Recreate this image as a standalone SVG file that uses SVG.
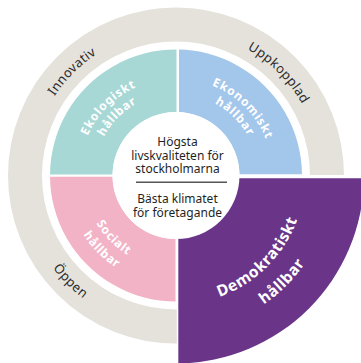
<svg xmlns="http://www.w3.org/2000/svg" width="361" height="363" viewBox="0 0 361 363">
<defs>
<style>
.outer{font-family:"Noto Sans",sans-serif;font-size:13px;fill:#2b2b2b;letter-spacing:0.4px}
.lab{font-family:"Noto Sans",sans-serif;font-weight:bold;font-size:12px;fill:#ffffff;letter-spacing:0.8px}
.big{font-family:"Noto Sans",sans-serif;font-weight:bold;font-size:15.5px;fill:#ffffff;letter-spacing:0.6px}
.ctr{font-family:"Noto Sans",sans-serif;font-size:12px;fill:#1f1f1f;text-anchor:middle}
</style>
<clipPath id="cTL"><rect x="0" y="0" width="176.5" height="174.5"/></clipPath>
<clipPath id="cTR"><rect x="179" y="0" width="200" height="174.3"/></clipPath>
<clipPath id="cBL"><rect x="0" y="176.8" width="175.5" height="200"/></clipPath>
<path id="ring" d="M176,49.5 A126,126 0 1 1 175.99,49.5 Z M176,112 A63.5,63.5 0 1 0 176.01,112 Z" fill-rule="evenodd"/>
<path id="pInn" d="M35.94,213.03 A145,145 0 0 1 213.53,35.44"/>
<path id="pUpp" d="M138.47,35.44 A145,145 0 0 1 316.06,213.03"/>
<path id="pOpp" d="M27.25,135.64 A154,154 0 0 0 215.86,324.25"/>
<path id="pEko1" d="M82.31,200.61 A97,97 0 0 1 201.11,81.81"/>
<path id="pEko2" d="M96.79,196.72 A82,82 0 0 1 197.22,96.29"/>
<path id="pEkn1" d="M150.89,81.81 A97,97 0 0 1 269.69,200.61"/>
<path id="pEkn2" d="M154.78,96.29 A82,82 0 0 1 255.21,196.72"/>
<path id="pSoc1" d="M86.17,151.43 A93,93 0 0 0 200.07,265.33"/>
<path id="pSoc2" d="M69.75,147.03 A110,110 0 0 0 204.47,281.75"/>
<path id="pDem1" d="M142.61,300.10 A129,129 0 0 0 300.60,142.11"/>
<path id="pDem2" d="M135.62,326.19 A156,156 0 0 0 326.69,135.12"/>
</defs>
<rect width="361" height="363" fill="#ffffff"/>
<g id="outer-ring">
<circle cx="176" cy="175.5" r="151" fill="none" stroke="#e5e2dc" stroke-width="34"/>
<rect x="176.8" y="175" width="200" height="200" fill="#ffffff"/>
</g>
<g id="node-ekologiskt">
<use href="#ring" fill="#a7d8d5" clip-path="url(#cTL)"/>
<text class="lab"><textPath href="#pEko1" startOffset="50%" text-anchor="middle">Ekologiskt</textPath></text>
<text class="lab"><textPath href="#pEko2" startOffset="50%" text-anchor="middle">hållbar</textPath></text>
</g>
<g id="node-ekonomiskt">
<use href="#ring" fill="#a3c6eb" clip-path="url(#cTR)"/>
<text class="lab"><textPath href="#pEkn1" startOffset="50%" text-anchor="middle">Ekonomiskt</textPath></text>
<text class="lab"><textPath href="#pEkn2" startOffset="50%" text-anchor="middle">hållbar</textPath></text>
</g>
<g id="node-socialt">
<use href="#ring" fill="#f2b3c7" clip-path="url(#cBL)"/>
<text class="lab"><textPath href="#pSoc1" startOffset="50%" text-anchor="middle">Socialt</textPath></text>
<text class="lab"><textPath href="#pSoc2" startOffset="50%" text-anchor="middle">hållbar</textPath></text>
</g>
<g id="node-demokratiskt">
<path d="M178.3,178.3 L364,178.3 A188,188 0 0 1 178.3,363.5 Z" fill="#6a3589"/>
<circle cx="176" cy="175.5" r="63.5" fill="#ffffff"/>
<text class="big"><textPath href="#pDem1" startOffset="50%" text-anchor="middle">Demokratiskt</textPath></text>
<text class="big"><textPath href="#pDem2" startOffset="50%" text-anchor="middle">hållbar</textPath></text>
</g>
<g id="outer-labels">
<text class="outer"><textPath href="#pInn" startOffset="50%" text-anchor="middle">Innovativ</textPath></text>
<text class="outer"><textPath href="#pUpp" startOffset="50%" text-anchor="middle">Uppkopplad</textPath></text>
<text class="outer"><textPath href="#pOpp" startOffset="50%" text-anchor="middle">Öppen</textPath></text>
</g>
<g id="node-center">
<text class="ctr" x="177.5" y="146">Högsta</text>
<text class="ctr" x="177.5" y="159.5">livskvaliteten för</text>
<text class="ctr" x="177.5" y="173.3">stockholmarna</text>
<line x1="136" y1="182.3" x2="227" y2="182.3" stroke="#555555" stroke-width="1.6"/>
<text class="ctr" x="177.5" y="202.7">Bästa klimatet</text>
<text class="ctr" x="177.5" y="216.7">för företagande</text>
</g>
<g id="connectors"/>
</svg>
